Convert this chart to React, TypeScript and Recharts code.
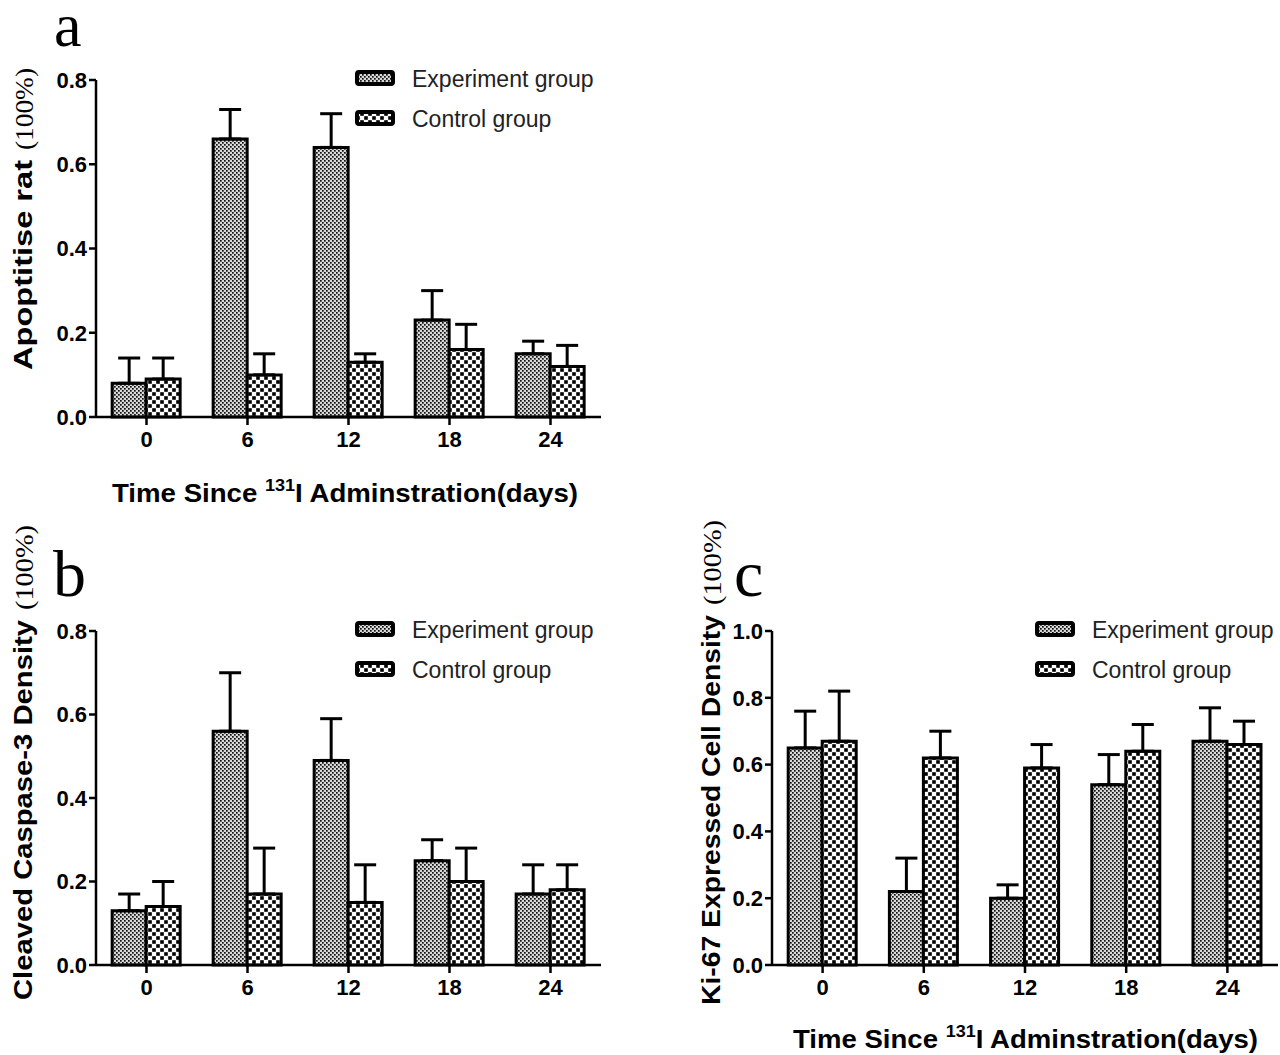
import React from "react";
import { Bar, BarChart, ErrorBar, XAxis, YAxis } from "recharts";

const days = ["0", "6", "12", "18", "24"];

// a: apoptosis rate
const apoExp = [0.08, 0.66, 0.64, 0.23, 0.15];
const apoExpErr = [0.06, 0.07, 0.08, 0.07, 0.03];
const apoCtrl = [0.09, 0.1, 0.13, 0.16, 0.12];
const apoCtrlErr = [0.05, 0.05, 0.02, 0.06, 0.05];

// b: cleaved caspase-3
const casExp = [0.13, 0.56, 0.49, 0.25, 0.17];
const casExpErr = [0.04, 0.14, 0.1, 0.05, 0.07];
const casCtrl = [0.14, 0.17, 0.15, 0.2, 0.18];
const casCtrlErr = [0.06, 0.11, 0.09, 0.08, 0.06];

// c: Ki-67
const kiExp = [0.65, 0.22, 0.2, 0.54, 0.67];
const kiExpErr = [0.11, 0.1, 0.04, 0.09, 0.1];
const kiCtrl = [0.67, 0.62, 0.59, 0.64, 0.66];
const kiCtrlErr = [0.15, 0.08, 0.07, 0.08, 0.07];

const ticks08 = [0, 0.2, 0.4, 0.6, 0.8];
const ticks10 = [0, 0.2, 0.4, 0.6, 0.8, 1.0];

const SANS = "'Liberation Sans', Arial, sans-serif";
const SERIF = "'Liberation Serif', 'Times New Roman', serif";

function build(exp: number[], expErr: number[], ctrl: number[], ctrlErr: number[]) {
  return days.map((d, i) => ({
    day: d,
    exp: exp[i],
    expErr: [0, expErr[i]],
    ctrl: ctrl[i],
    ctrlErr: [0, ctrlErr[i]],
  }));
}

function Patterns({ id }: { id: string }) {
  return (
    <defs>
      <pattern id={`dots-${id}`} width="4" height="4" patternUnits="userSpaceOnUse">
        <rect width="4" height="4" fill="#d8d8d8" />
        <rect x="0" y="0" width="1.7" height="1.7" fill="#111" />
        <rect x="2" y="2" width="1.7" height="1.7" fill="#111" />
      </pattern>
      <pattern id={`check-${id}`} width="8" height="8" patternUnits="userSpaceOnUse">
        <rect width="8" height="8" fill="#fff" />
        <rect x="0.2" y="0.2" width="3.6" height="3.6" fill="#000" />
        <rect x="4.2" y="4.2" width="3.6" height="3.6" fill="#000" />
      </pattern>
    </defs>
  );
}

type PanelProps = {
  id: string;
  left: number;
  top: number;
  width: number;
  height: number;
  marginTop: number;
  xAxisHeight: number;
  data: ReturnType<typeof build>;
  domainMax: number;
  ticks: number[];
};

function Panel(p: PanelProps) {
  return (
    <div style={{ position: "absolute", left: p.left, top: p.top }}>
      <BarChart
        width={p.width}
        height={p.height}
        data={p.data}
        margin={{ top: p.marginTop, right: 2, bottom: 0, left: 0 }}
        barCategoryGap="16%"
        barGap={0}
      >
        <Patterns id={p.id} />
        <XAxis
          dataKey="day"
          height={p.xAxisHeight}
          stroke="#000"
          strokeWidth={2.5}
          tickSize={8}
          tickMargin={6}
          tick={{ fill: "#000", fontSize: 22, fontWeight: "bold", fontFamily: SANS }}
        />
        <YAxis
          width={96}
          domain={[0, p.domainMax]}
          ticks={p.ticks}
          interval={0}
          stroke="#000"
          strokeWidth={2.5}
          tickSize={7}
          tickMargin={2}
          tickFormatter={(v: number) => v.toFixed(1)}
          tick={{ fill: "#000", fontSize: 22, fontWeight: "bold", fontFamily: SANS }}
        />
        <Bar
          dataKey="exp"
          fill={`url(#dots-${p.id})`}
          stroke="#000"
          strokeWidth={3}
          isAnimationActive={false}
        >
          <ErrorBar dataKey="expErr" width={11} stroke="#000" strokeWidth={3} />
        </Bar>
        <Bar
          dataKey="ctrl"
          fill={`url(#check-${p.id})`}
          stroke="#000"
          strokeWidth={3}
          isAnimationActive={false}
        >
          <ErrorBar dataKey="ctrlErr" width={11} stroke="#000" strokeWidth={3} />
        </Bar>
      </BarChart>
    </div>
  );
}

function LegendBlock({ x, y }: { x: number; y: number }) {
  return (
    <g>
      <rect x={x + 2} y={y + 2} width={36} height={12} rx={2} fill="url(#dots-lg)" stroke="#000" strokeWidth={4} />
      <text x={x + 57} y={y + 17} fontSize={23} fontFamily={SANS} fill="#222">
        Experiment group
      </text>
      <rect x={x + 2} y={y + 42} width={36} height={12} rx={2} fill="url(#check-lg)" stroke="#000" strokeWidth={4} />
      <text x={x + 57} y={y + 57} fontSize={23} fontFamily={SANS} fill="#222">
        Control group
      </text>
    </g>
  );
}

function XTitle({ x0, x1, y }: { x0: number; x1: number; y: number }) {
  return (
    <text
      x={x0}
      y={y}
      textLength={x1 - x0}
      lengthAdjust="spacingAndGlyphs"
      fontSize={26}
      fontWeight="bold"
      fontFamily={SANS}
      fill="#000"
    >
      Time Since <tspan fontSize={17} dy={-11}>131</tspan>
      <tspan dy={11}>I Adminstration(days)</tspan>
    </text>
  );
}

// rotated title: bold label runs from yStart up to yMid, serif "(100%)" from yMid-10 up to yEnd
function YTitle({ x, yStart, yMid, yEnd, label }: { x: number; yStart: number; yMid: number; yEnd: number; label: string }) {
  return (
    <g transform="rotate(-90)">
      <text
        x={-yStart}
        y={x}
        textLength={yStart - yMid}
        lengthAdjust="spacingAndGlyphs"
        fontSize={26}
        fontWeight="bold"
        fontFamily={SANS}
        fill="#000"
      >
        {label}
      </text>
      <text
        x={-(yMid - 10)}
        y={x + 1}
        textLength={yMid - 10 - yEnd}
        lengthAdjust="spacingAndGlyphs"
        fontSize={25}
        fontFamily={SERIF}
        fill="#000"
      >
        (100%)
      </text>
    </g>
  );
}

export default function App() {
  return (
    <div style={{ position: "absolute", left: 0, top: 0, width: 1280, height: 1055, background: "#fff" }}>
      <Panel
        id="a"
        left={0}
        top={0}
        width={603}
        height={520}
        marginTop={80}
        xAxisHeight={103}
        data={build(apoExp, apoExpErr, apoCtrl, apoCtrlErr)}
        domainMax={0.8}
        ticks={ticks08}
      />
      <Panel
        id="b"
        left={0}
        top={540}
        width={603}
        height={515}
        marginTop={91}
        xAxisHeight={90}
        data={build(casExp, casExpErr, casCtrl, casCtrlErr)}
        domainMax={0.8}
        ticks={ticks08}
      />
      <Panel
        id="c"
        left={676}
        top={540}
        width={604}
        height={515}
        marginTop={91}
        xAxisHeight={90}
        data={build(kiExp, kiExpErr, kiCtrl, kiCtrlErr)}
        domainMax={1.0}
        ticks={ticks10}
      />
      <svg
        width={1280}
        height={1055}
        style={{ position: "absolute", left: 0, top: 0, pointerEvents: "none" }}
      >
        <Patterns id="lg" />
        <text x={54} y={46} fontSize={62} fontFamily={SERIF} fill="#000">a</text>
        <text x={53} y={596} fontSize={66} fontFamily={SERIF} fill="#000">b</text>
        <text x={734} y={596} fontSize={66} fontFamily={SERIF} fill="#000">c</text>

        <LegendBlock x={355} y={70} />
        <LegendBlock x={355} y={621} />
        <LegendBlock x={1035} y={621} />

        <XTitle x0={112} x1={578} y={502} />
        <XTitle x0={793} x1={1258} y={1048} />

        <YTitle x={32} yStart={370} yMid={160} yEnd={68} label="Apoptitise rat" />
        <YTitle x={32} yStart={1000} yMid={620} yEnd={525} label="Cleaved Caspase-3 Density" />
        <YTitle x={720} yStart={1005} yMid={615} yEnd={520} label="Ki-67 Expressed Cell Density" />
      </svg>
    </div>
  );
}
